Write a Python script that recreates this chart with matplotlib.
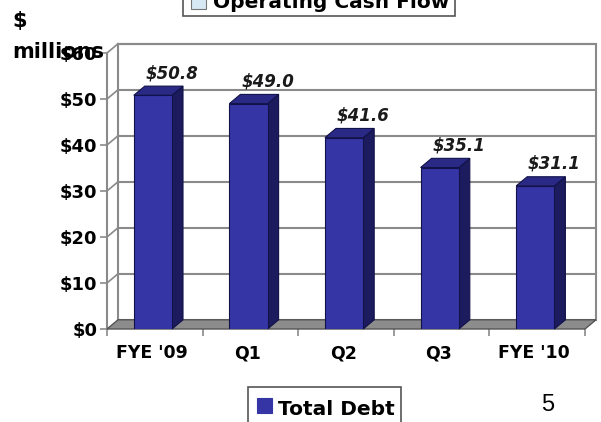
import matplotlib.pyplot as plt
from matplotlib.patches import Polygon, Rectangle

categories = ["FYE '09", "Q1", "Q2", "Q3", "FYE '10"]
total_debt = [50.8, 49.0, 41.6, 35.1, 31.1]
value_labels = ["$50.8", "$49.0", "$41.6", "$35.1", "$31.1"]
y_ticks = [0, 10, 20, 30, 40, 50, 60]

front_c = "#3535a6"
side_c = "#1b1b5e"
top_c = "#2a2a86"
edge_c = "#12124a"
grid_c = "#8a8a8a"

plt.rcParams['font.family'] = ['DejaVu Sans']

W, H = 601, 422
fig = plt.figure(figsize=(W/100, H/100), dpi=100)
ax = fig.add_axes([107/W, 93/H, 478/W, 276/H])
ax.set_xlim(-0.5, 4.5)
ax.set_ylim(0, 60)
for s in ax.spines.values():
    s.set_visible(False)

# depth of the fake 3d box in data units
dx, dy = 0.115, 2.0
x0, x1 = -0.5, 4.5

# back wall + gridlines
ax.add_patch(Polygon([(x0+dx, dy), (x1+dx, dy), (x1+dx, 60+dy), (x0+dx, 60+dy)],
                     closed=True, facecolor='white', edgecolor=grid_c, lw=1.5, clip_on=False, zorder=0))
for v in y_ticks[1:]:
    ax.plot([x0+dx, x1+dx], [v+dy, v+dy], color=grid_c, lw=1.5, clip_on=False, zorder=1)
    ax.plot([x0, x0+dx], [v, v+dy], color=grid_c, lw=1.2, clip_on=False, zorder=1)
ax.plot([x0, x0], [0, 60], color=grid_c, lw=1.5, clip_on=False, zorder=1)

# floor
ax.add_patch(Polygon([(x0, 0), (x1, 0), (x1+dx, dy), (x0+dx, dy)], closed=True,
                     facecolor='#8c8c8c', edgecolor='#555555', lw=1.0, clip_on=False, zorder=2))

# bars
w = 0.40
for i, v in enumerate(total_debt):
    xc = i - 0.02
    l, r = xc - w/2, xc + w/2
    ax.add_patch(Polygon([(l, 0), (r, 0), (r, v), (l, v)], closed=True,
                         facecolor=front_c, edgecolor=edge_c, lw=0.8, zorder=4))
    ax.add_patch(Polygon([(r, 0), (r+dx, dy), (r+dx, v+dy), (r, v)], closed=True,
                         facecolor=side_c, edgecolor=edge_c, lw=0.8, zorder=3, clip_on=False))
    ax.add_patch(Polygon([(l, v), (r, v), (r+dx, v+dy), (l+dx, v+dy)], closed=True,
                         facecolor=top_c, edgecolor=edge_c, lw=0.8, zorder=3, clip_on=False))
    ax.text(i + 0.18, v + 4.8, value_labels[i], ha='center', va='center',
            fontsize=12, fontweight='bold', fontstyle='italic', color='#1a1a1a', zorder=5)

# axes ticks
ax.set_yticks(y_ticks)
ax.set_yticklabels(["$%d" % t for t in y_ticks], fontsize=13, fontweight='bold')
ax.tick_params(axis='y', length=5, width=1.2, color=grid_c, pad=2)
ax.set_xticks([i - 0.03 for i in range(len(categories))])
ax.set_xticklabels(categories, fontsize=12.5, fontweight='bold')
ax.set_xticks([x0 + k for k in range(6)], minor=True)
ax.tick_params(axis='x', which='major', length=0, pad=11)
ax.tick_params(axis='x', which='minor', length=5, width=1.2, color=grid_c)

# unit label
fig.text(12/W, 1 - 21/H, "$", fontsize=15, fontweight='bold', va='center', ha='left')
fig.text(12/W, 1 - 52/H, "millions", fontsize=15, fontweight='bold', va='center', ha='left')


def px(x, y):
    # pixel from top-left -> figure fraction
    return x / W, 1 - y / H


# top legend, cut by the upper edge
fig.add_artist(Rectangle(px(183, 16), 272/W, 40/H, transform=fig.transFigure,
                         facecolor='white', edgecolor='#555555', lw=1.2))
fig.add_artist(Rectangle(px(191, 9), 15/W, 15/H, transform=fig.transFigure,
                         facecolor='#d6e8f4', edgecolor='#777777', lw=0.8))
fig.text(*px(213, 8), "Operating Cash Flow", fontsize=14.5, fontweight='bold',
         ha='left', va='baseline')

# bottom legend, cut by the lower edge
fig.add_artist(Rectangle(px(248, 430), 153/W, 43/H, transform=fig.transFigure,
                         facecolor='white', edgecolor='#555555', lw=1.2))
fig.add_artist(Rectangle(px(257, 413), 15/W, 15/H, transform=fig.transFigure,
                         facecolor=front_c, edgecolor=front_c, lw=0.8))
fig.text(*px(278, 415), "Total Debt", fontsize=14.5, fontweight='bold',
         ha='left', va='baseline')

fig.text(*px(548, 405), "5", fontsize=17, va='center', ha='center', family='Liberation Sans')

fig.savefig("out.png", dpi=100)
